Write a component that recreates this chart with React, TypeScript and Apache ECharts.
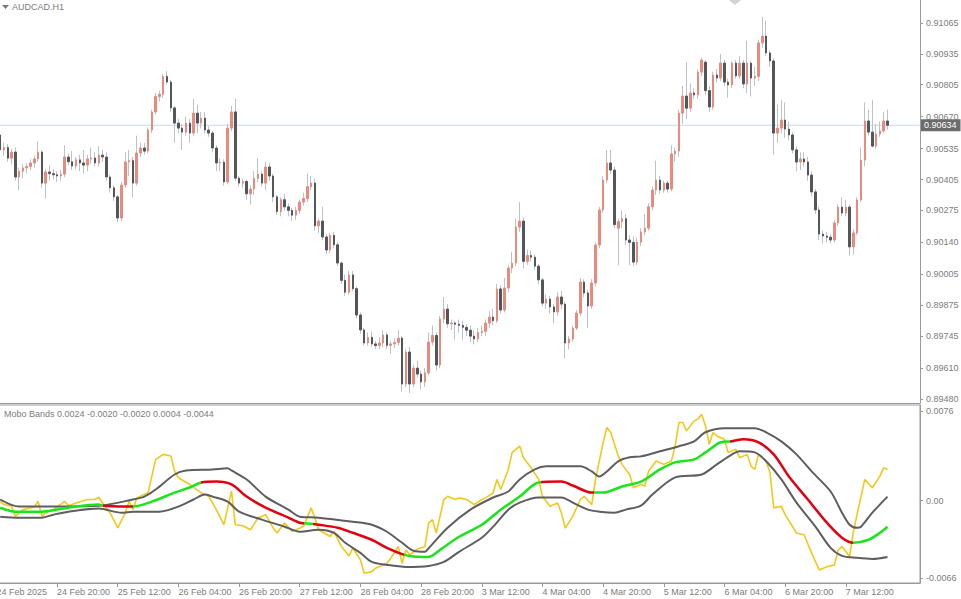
import React, { useEffect, useRef } from 'react';
import * as echarts from 'echarts';

const FONT = '"Liberation Sans", Arial, "DejaVu Sans", sans-serif';
const TEXT = '#7d7d7d';
const AXIS = '#9a9a9a';

// ---- time axis (bar index 0 = 24 Feb 2025 04:00, H1 bars, weekend skipped)
const xTickBars = [0, 16, 32, 48, 64, 80, 96, 112, 128, 144, 160, 176, 192, 208, 224];
const xTickLabels = ['24 Feb 2025', '24 Feb 20:00', '25 Feb 12:00', '26 Feb 04:00', '26 Feb 20:00', '27 Feb 12:00', '28 Feb 04:00', '28 Feb 20:00', '3 Mar 12:00', '4 Mar 04:00', '4 Mar 20:00', '5 Mar 12:00', '6 Mar 04:00', '6 Mar 20:00', '7 Mar 12:00'];
const firstBar = 1; // 24 Feb 05:00

// ---- price axis
const priceTicks = [0.91065, 0.90935, 0.90805, 0.9067, 0.90535, 0.90405, 0.90275, 0.9014, 0.90005, 0.89875, 0.89745, 0.8961, 0.8948];
const currentPrice = 0.90634;

// ---- indicator axis
const indTicks = [0.0076, 0, -0.0066];
const indTickLabels = ['0.0076', '0.00', '-0.0066'];
const indicatorHeaderValues = ['0.0024', '-0.0020', '-0.0020', '0.0004', '-0.0044'];

// ---- candles per day: [open, close, low, high] in points (1e-5)
const feb24 = [
  [90593, 90530, 90515, 90640], [90530, 90540, 90505, 90560], [90540, 90495, 90480, 90555], [90495, 90521, 90470, 90535],
  [90521, 90416, 90400, 90540], [90416, 90440, 90360, 90455], [90440, 90454, 90410, 90470], [90454, 90460, 90430, 90475],
  [90460, 90475, 90445, 90490], [90475, 90492, 90455, 90505], [90492, 90521, 90480, 90565], [90521, 90390, 90370, 90530],
  [90390, 90437, 90325, 90450], [90437, 90430, 90400, 90465], [90430, 90425, 90405, 90450], [90425, 90420, 90395, 90440],
  [90420, 90428, 90400, 90445], [90428, 90500, 90415, 90550], [90500, 90480, 90465, 90515],
];
const feb25 = [
  [90480, 90462, 90445, 90525], [90462, 90488, 90450, 90500], [90488, 90475, 90440, 90510], [90475, 90466, 90430, 90530],
  [90466, 90492, 90440, 90510], [90492, 90496, 90470, 90540], [90496, 90475, 90460, 90520], [90475, 90508, 90460, 90545],
  [90508, 90500, 90480, 90530], [90500, 90416, 90400, 90520], [90416, 90370, 90350, 90425], [90370, 90332, 90315, 90380],
  [90332, 90243, 90225, 90340], [90243, 90382, 90230, 90395], [90382, 90479, 90370, 90520], [90479, 90485, 90420, 90530],
  [90485, 90390, 90330, 90500], [90390, 90517, 90380, 90590], [90517, 90538, 90500, 90560], [90538, 90525, 90510, 90560],
  [90525, 90614, 90515, 90625], [90614, 90690, 90600, 90700], [90690, 90755, 90680, 90770], [90755, 90765, 90735, 90780],
];
const feb26 = [
  [90765, 90840, 90750, 90850], [90840, 90816, 90805, 90862], [90816, 90707, 90690, 90825], [90707, 90643, 90560, 90715],
  [90643, 90622, 90600, 90660], [90622, 90605, 90530, 90640], [90605, 90643, 90590, 90670], [90643, 90601, 90560, 90660],
  [90601, 90685, 90590, 90745], [90685, 90643, 90600, 90720], [90643, 90664, 90620, 90690], [90664, 90614, 90600, 90690],
  [90614, 90601, 90585, 90630], [90601, 90538, 90520, 90610], [90538, 90475, 90440, 90550], [90475, 90478, 90440, 90495],
  [90478, 90395, 90380, 90490], [90395, 90622, 90385, 90640], [90622, 90690, 90610, 90715], [90690, 90411, 90400, 90745],
  [90411, 90390, 90375, 90420], [90390, 90397, 90370, 90410], [90397, 90345, 90320, 90405], [90345, 90365, 90300, 90380],
];
const feb27 = [
  [90365, 90410, 90340, 90440], [90410, 90428, 90395, 90495], [90428, 90390, 90375, 90440], [90390, 90458, 90360, 90480],
  [90458, 90420, 90400, 90475], [90420, 90332, 90310, 90430], [90332, 90270, 90255, 90340], [90270, 90320, 90250, 90330],
  [90320, 90290, 90275, 90345], [90290, 90275, 90250, 90305], [90275, 90255, 90230, 90285], [90255, 90275, 90235, 90290],
  [90275, 90310, 90260, 90320], [90310, 90325, 90295, 90350], [90325, 90375, 90310, 90430], [90375, 90390, 90360, 90420],
  [90390, 90210, 90190, 90410], [90210, 90230, 90180, 90240], [90230, 90163, 90150, 90290], [90163, 90108, 90090, 90175],
  [90108, 90170, 90095, 90180], [90170, 90130, 90115, 90185], [90130, 90053, 90040, 90140], [90053, 89980, 89965, 90060],
];
const feb28 = [
  [89980, 89930, 89915, 90005], [89930, 90003, 89920, 90020], [90003, 89945, 89935, 90020], [89945, 89834, 89820, 89955],
  [89834, 89771, 89755, 89845], [89771, 89716, 89705, 89780], [89716, 89740, 89705, 89760], [89740, 89712, 89700, 89765],
  [89712, 89705, 89690, 89725], [89705, 89716, 89690, 89740], [89716, 89750, 89700, 89770], [89750, 89706, 89690, 89760],
  [89706, 89712, 89670, 89725], [89712, 89718, 89695, 89735], [89718, 89737, 89705, 89770], [89737, 89543, 89510, 89745],
  [89543, 89678, 89530, 89690], [89678, 89543, 89505, 89700], [89543, 89610, 89530, 89625], [89610, 89585, 89570, 89640],
  [89585, 89552, 89520, 89600], [89552, 89590, 89530, 89610], [89590, 89720, 89580, 89760], [89720, 89748, 89705, 89790],
];
const mar3 = [
  [89748, 89623, 89600, 89760], [89623, 89817, 89610, 89830], [89817, 89859, 89800, 89910], [89859, 89797, 89780, 89880],
  [89797, 89800, 89770, 89815], [89800, 89795, 89730, 89810], [89795, 89790, 89760, 89815], [89790, 89782, 89730, 89810],
  [89782, 89770, 89745, 89795], [89770, 89745, 89720, 89790], [89745, 89733, 89710, 89770], [89733, 89760, 89720, 89780],
  [89760, 89765, 89745, 89790], [89765, 89800, 89745, 89815], [89800, 89825, 89780, 89850], [89825, 89810, 89790, 89860],
  [89810, 89944, 89800, 89965], [89944, 89855, 89840, 89960], [89855, 89948, 89845, 89990], [89948, 90032, 89930, 90045],
  [90032, 90053, 90010, 90100], [90053, 90205, 90040, 90240], [90205, 90230, 90185, 90310], [90230, 90060, 90030, 90245],
];
const mar4 = [
  [90060, 90085, 90045, 90110], [90085, 90078, 90060, 90105], [90078, 90040, 90025, 90090], [90040, 89982, 89965, 90050],
  [89982, 89884, 89870, 89990], [89884, 89901, 89860, 89920], [89901, 89868, 89840, 89915], [89868, 89847, 89800, 89880],
  [89847, 89910, 89830, 89930], [89910, 89880, 89860, 89935], [89880, 89716, 89650, 89890], [89716, 89733, 89690, 89745],
  [89733, 89779, 89720, 89790], [89779, 89842, 89770, 89855], [89842, 89973, 89830, 89990], [89973, 89927, 89910, 89985],
  [89927, 89872, 89780, 89940], [89872, 89969, 89860, 89985], [89969, 90129, 89955, 90140], [90129, 90277, 90115, 90290],
  [90277, 90403, 90265, 90420], [90403, 90475, 90390, 90530], [90475, 90445, 90430, 90530], [90445, 90215, 90200, 90460],
];
const mar5 = [
  [90200, 90228, 90045, 90240], [90228, 90240, 90200, 90275], [90240, 90150, 90130, 90260], [90150, 90140, 90045, 90170],
  [90140, 90057, 90040, 90165], [90057, 90141, 90045, 90160], [90141, 90184, 90125, 90200], [90184, 90200, 90170, 90260],
  [90200, 90290, 90190, 90305], [90290, 90361, 90275, 90375], [90361, 90403, 90340, 90485], [90403, 90361, 90345, 90420],
  [90361, 90390, 90350, 90400], [90390, 90365, 90350, 90400], [90365, 90513, 90355, 90550], [90513, 90525, 90480, 90540],
  [90525, 90685, 90500, 90700], [90685, 90757, 90640, 90800], [90757, 90706, 90660, 90900], [90706, 90770, 90690, 90810],
  [90770, 90762, 90745, 90790], [90762, 90858, 90745, 90870], [90858, 90909, 90840, 90920], [90900, 90780, 90760, 90910],
];
const mar6 = [
  [90780, 90711, 90690, 90800], [90711, 90846, 90700, 90860], [90846, 90833, 90815, 90870], [90833, 90896, 90820, 90935],
  [90896, 90816, 90800, 90910], [90816, 90804, 90750, 90830], [90804, 90896, 90790, 90905], [90896, 90842, 90830, 90910],
  [90842, 90896, 90830, 90925], [90896, 90808, 90790, 90910], [90808, 90896, 90770, 90990], [90896, 90833, 90755, 90905],
  [90833, 90840, 90800, 90880], [90840, 90981, 90820, 90995], [90981, 91010, 90960, 91090], [91010, 90939, 90925, 91075],
  [90939, 90905, 90880, 90950], [90905, 90601, 90510, 90915], [90601, 90622, 90560, 90720], [90622, 90656, 90600, 90740],
  [90656, 90618, 90580, 90730], [90618, 90593, 90570, 90650], [90593, 90530, 90515, 90605], [90530, 90479, 90440, 90545],
];
const mar7 = [
  [90479, 90492, 90445, 90520], [90492, 90479, 90460, 90520], [90479, 90424, 90400, 90500], [90424, 90353, 90335, 90440],
  [90353, 90277, 90260, 90365], [90277, 90175, 90150, 90290], [90175, 90167, 90135, 90190], [90167, 90162, 90140, 90185],
  [90162, 90150, 90135, 90175], [90150, 90222, 90140, 90235], [90222, 90289, 90210, 90300], [90289, 90264, 90250, 90330],
  [90264, 90289, 90250, 90320], [90289, 90121, 90085, 90300], [90121, 90180, 90090, 90195], [90180, 90319, 90170, 90330],
  [90319, 90487, 90310, 90540], [90487, 90652, 90460, 90730], [90652, 90605, 90590, 90700], [90605, 90546, 90540, 90740],
  [90546, 90597, 90535, 90640], [90597, 90610, 90585, 90650], [90610, 90652, 90600, 90690], [90652, 90634, 90615, 90700],
];
const days = [feb24, feb25, feb26, feb27, feb28, mar3, mar4, mar5, mar6, mar7];

// ---- Mobo Bands indicator: [bar index, value]
const yellowLine = [
  [1, -0.00006], [2, -0.00034], [4, -0.00049], [5, -0.00134], [7, -0.00077], [10, -0.00054], [11, -0.00006], [12, -0.00134],
  [13, -0.00105], [15, -0.00077], [18, -0.00006], [19, -0.00043], [21, -0.0002], [24, 0.00009], [26, 0.00009], [27, 0.00028],
  [28, -0.0002], [30, -0.00105], [32, -0.00233], [34, -0.00105], [35, -0.00006], [36, -0.00077], [37, 0.00023], [40, 0.00066],
  [42, 0.00351], [44, 0.00393], [46, 0.00379], [47, 0.00251], [48, 0.00194], [51, 0.00137], [54, 0.00066], [56, 0.00037],
  [58, -0.00077], [60, -0.00205], [62, 0.0008], [63, -0.00205], [65, -0.00214], [67, -0.00248], [69, -0.00148], [71, -0.0012],
  [73, -0.00233], [74, -0.00276], [76, -0.00191], [78, -0.00262], [81, -0.0022], [83, -0.00062], [84, -0.00148], [85, -0.00248],
  [88, -0.00305], [89, -0.00262], [91, -0.00391], [93, -0.00471], [94, -0.00404], [96, -0.00504], [97, -0.00618], [99, -0.00604],
  [100, -0.00575], [103, -0.00533], [104, -0.0049], [106, -0.00391], [107, -0.00533], [108, -0.00419], [109, -0.00462], [111, -0.00413],
  [113, -0.00391], [114, -0.00191], [115, -0.00162], [116, -0.00276], [118, 0.00009], [119, 0.00037], [121, 0.00009], [122, 0.00023],
  [124, 0.00009], [126, -0.00034], [128, 0.00009], [129, 0.00023], [131, 0.00066], [132, 0.0018], [133, 0.00094], [135, 0.00265],
  [136, 0.00408], [138, 0.00464], [139, 0.00365], [141, 0.0028], [143, 0.0018], [144, 0.00037], [146, -0.00049], [148, -0.0002],
  [149, -0.00105], [150, -0.00233], [152, -0.00134], [154, 0.00009], [155, 0.00037], [157, -0.00034], [158, 0.0018], [160, 0.00493],
  [161, 0.00622], [162, 0.00579], [164, 0.00379], [165, 0.00308], [167, 0.00222], [168, 0.00109], [170, 0.00137], [171, 0.00122],
  [172, 0.00251], [174, 0.00336], [176, 0.00308], [178, 0.00336], [179, 0.00464], [180, 0.00664], [181, 0.00664], [182, 0.00593],
  [183, 0.00635], [184, 0.00678], [185, 0.00693], [186, 0.00735], [187, 0.00635], [188, 0.00479], [189, 0.00579], [190, 0.0055],
  [192, 0.00522], [193, 0.00408], [195, 0.00436], [196, 0.00365], [198, 0.00393], [199, 0.00293], [200, 0.00265], [201, 0.00393],
  [203, 0.00336], [204, 0.00237], [205, -0.00062], [207, -0.00049], [208, -0.0012], [211, -0.00276], [213, -0.00291], [215, -0.00447],
  [217, -0.0059], [219, -0.00562], [221, -0.00547], [222, -0.00419], [223, -0.00391], [225, -0.00476], [226, -0.00262], [229, 0.0018],
  [231, 0.00109], [233, 0.00208], [234, 0.0028], [235, 0.00265],
];
const upperBand = [
  [1, 0.00009], [6, -0.00051], [27, -0.00043], [36, 0.00009], [39, 0.00034], [42, 0.00094], [47, 0.00222], [50, 0.00256],
  [57, 0.00265], [61, 0.00274], [62, 0.00256], [66, 0.0018], [71, 0.00034], [77, -0.00077], [80, -0.00137], [85, -0.00145],
  [94, -0.0018], [99, -0.00205], [103, -0.00265], [107, -0.00359], [110, -0.00427], [113, -0.00436], [114, -0.00405], [119, -0.00231],
  [125, -0.00077], [131, 0.00026], [135, 0.00077], [138, 0.0018], [142, 0.00265], [145, 0.00291], [154, 0.00291], [157, 0.00248],
  [159, 0.00205], [161, 0.00248], [164, 0.00334], [167, 0.00368], [170, 0.00376], [175, 0.00419], [180, 0.00462], [184, 0.00504],
  [187, 0.00581], [192, 0.00616], [200, 0.00616], [203, 0.00581], [207, 0.00504], [211, 0.00393], [215, 0.00248], [220, 0.00077],
  [223, -0.00103], [225, -0.00205], [227, -0.00231], [228, -0.00222], [231, -0.00103], [235, 0.00034],
];
const lowerBand = [
  [1, -0.00137], [6, -0.00145], [12, -0.00145], [15, -0.0012], [19, -0.00094], [27, -0.00068], [33, -0.00103], [36, -0.00094],
  [43, -0.00094], [48, -0.00051], [52, 0.00009], [55, 0.00051], [57, 0.00034], [61, -0.00009], [64, -0.00094], [70, -0.00162],
  [76, -0.00222], [80, -0.00265], [85, -0.00248], [89, -0.00274], [92, -0.00359], [96, -0.00445], [99, -0.00522], [103, -0.00547],
  [108, -0.00564], [114, -0.00556], [118, -0.00522], [122, -0.00436], [128, -0.00316], [131, -0.00222], [135, -0.00077], [138, -0.00017],
  [143, 0.00026], [149, 0.00026], [152, -0.00017], [156, -0.00077], [159, -0.00094], [163, -0.00103], [166, -0.00077], [170, -0.00043],
  [173, 0.00051], [179, 0.00197], [186, 0.00222], [190, 0.00308], [194, 0.00393], [196, 0.00419], [200, 0.0041], [203, 0.00334],
  [207, 0.0018], [211, -0.00017], [216, -0.00222], [220, -0.00402], [223, -0.0047], [227, -0.00487], [231, -0.00496], [235, -0.00479],
];
const midLine = [
  [1, -0.0006], [5, -0.00094], [12, -0.00094], [19, -0.0006], [27, -0.00034], [28, -0.00043], [36, -0.00051], [41, -0.00009],
  [47, 0.00068], [51, 0.00111], [54, 0.00154], [58, 0.00162], [62, 0.00137], [66, 0.00034], [71, -0.0006], [77, -0.00145],
  [80, -0.00188], [83, -0.00197], [85, -0.00205], [90, -0.00231], [94, -0.00274], [99, -0.00333], [103, -0.00402], [107, -0.00455],
  [110, -0.00475], [114, -0.00479], [117, -0.00419], [122, -0.00308], [128, -0.00205], [133, -0.00077], [138, 0.00034], [143, 0.00154],
  [149, 0.00162], [152, 0.00128], [157, 0.00068], [160, 0.00068], [165, 0.0012], [170, 0.00162], [175, 0.00265], [179, 0.00325],
  [184, 0.00351], [187, 0.0041], [191, 0.00496], [194, 0.00505], [197, 0.00522], [201, 0.00496], [205, 0.00393], [209, 0.00205],
  [214, 0.00009], [219, -0.00188], [223, -0.00316], [226, -0.00359], [230, -0.00333], [233, -0.00274], [235, -0.00222],
];
// bar ranges where the middle line is falling (drawn red)
const redRanges = [[28, 36], [54, 81], [83.5, 107.5], [143.5, 157.5], [193.5, 226]];

// ---- layout constants
const X_MIN = -0.1;
const X_MAX = 243.57;

const candles = days.flat();
const wickData = candles.map(([o, c, l, h], k) => [firstBar + k, o / 1e5, c / 1e5, l / 1e5, h / 1e5]);
const bodyData = candles.map(([o, c], k) => [firstBar + k, o / 1e5, c / 1e5, Math.min(o, c) / 1e5, Math.max(o, c) / 1e5]);
const priceLineData = [[X_MIN, currentPrice], [X_MAX, currentPrice]];

const labelStyle = { color: TEXT, fontSize: 9, fontFamily: FONT };

function buildOption(): any {
  return {
    animation: false,
    backgroundColor: '#ffffff',
    textStyle: { fontFamily: FONT },
    title: [
      { text: 'AUDCAD.H1', left: 12, top: 2, padding: 0, textStyle: { ...labelStyle, fontWeight: 'normal' } },
      { text: `Mobo Bands ${indicatorHeaderValues.join(' ')}`, left: 4, top: 409, padding: 0, textStyle: { ...labelStyle, fontWeight: 'normal' } },
    ],
    grid: [
      { left: -4, top: 0, width: 924, height: 403, outerBoundsMode: 'none', containLabel: false },
      {
        left: -4, top: 405, width: 924, height: 178, outerBoundsMode: 'none', containLabel: false,
        show: true, borderColor: AXIS, borderWidth: 1, backgroundColor: 'transparent',
      },
    ],
    xAxis: [
      {
        type: 'value', gridIndex: 0, min: X_MIN, max: X_MAX,
        axisLine: { show: true, onZero: false, lineStyle: { color: AXIS } },
        axisTick: { show: false }, axisLabel: { show: false }, splitLine: { show: false },
      },
      {
        type: 'value', gridIndex: 1, min: X_MIN, max: X_MAX, position: 'bottom',
        axisLine: { show: true, onZero: false, lineStyle: { color: AXIS } },
        axisTick: { show: true, customValues: xTickBars, length: 4, lineStyle: { color: AXIS } },
        axisLabel: {
          show: true, customValues: xTickBars, align: 'left', margin: 4, ...labelStyle,
          formatter: (v: number) => {
            const i = xTickBars.indexOf(Math.round(v));
            return i >= 0 ? xTickLabels[i] : '';
          },
        },
        splitLine: { show: false },
      },
    ],
    yAxis: [
      {
        type: 'value', gridIndex: 0, position: 'right', min: 0.89463, max: 0.91162, scale: true,
        axisLine: { show: true, onZero: false, lineStyle: { color: AXIS } },
        axisTick: { show: true, customValues: priceTicks, length: 3, lineStyle: { color: AXIS } },
        axisLabel: { show: true, customValues: priceTicks, margin: 6, ...labelStyle, formatter: (v: number) => v.toFixed(5) },
        splitLine: { show: false },
      },
      {
        type: 'value', gridIndex: 1, position: 'right', min: -0.00701, max: 0.00813,
        axisLine: { show: true, onZero: false, lineStyle: { color: AXIS } },
        axisTick: { show: true, customValues: indTicks, length: 3, lineStyle: { color: AXIS } },
        axisLabel: {
          show: true, customValues: indTicks, margin: 6, ...labelStyle,
          formatter: (v: number) => {
            const i = indTicks.findIndex((t) => Math.abs(t - v) < 1e-9);
            return i >= 0 ? indTickLabels[i] : '';
          },
        },
        splitLine: { show: false },
      },
    ],
    visualMap: [
      {
        type: 'piecewise', show: false, seriesIndex: 6, dimension: 0,
        pieces: redRanges.map(([a, b]) => ({ gte: a, lte: b, color: '#e4000f' })),
        outOfRange: { color: '#19e619' },
      },
    ],
    series: [
      {
        name: 'current price', type: 'line', xAxisIndex: 0, yAxisIndex: 0, data: priceLineData,
        showSymbol: false, silent: true, z: 1,
        lineStyle: { color: '#c4d8e6', width: 1 },
        endLabel: {
          show: true, formatter: currentPrice.toFixed(5), distance: 1,
          color: '#ffffff', backgroundColor: '#6c6c6c', padding: [2, 4, 1, 3], fontSize: 9, fontFamily: FONT,
        },
      },
      {
        name: 'wicks', type: 'candlestick', xAxisIndex: 0, yAxisIndex: 0, barWidth: 1,
        encode: { x: 0, y: [1, 2, 3, 4] }, data: wickData,
        itemStyle: { color: '#bcc2c9', color0: '#bcc2c9', borderColor: '#bcc2c9', borderColor0: '#bcc2c9', borderWidth: 1 },
      },
      {
        name: 'bodies', type: 'candlestick', xAxisIndex: 0, yAxisIndex: 0, barWidth: 2,
        encode: { x: 0, y: [1, 2, 3, 4] }, data: bodyData,
        itemStyle: { color: '#e98a7c', color0: '#53575c', borderColor: '#e98a7c', borderColor0: '#53575c', borderColorDoji: '#53575c', borderWidth: 1 },
      },
      {
        name: 'yellow', type: 'line', xAxisIndex: 1, yAxisIndex: 1, data: yellowLine, showSymbol: false,
        lineStyle: { color: '#f3c81b', width: 1.6 }, z: 2,
      },
      {
        name: 'upper', type: 'line', xAxisIndex: 1, yAxisIndex: 1, data: upperBand, showSymbol: false, smooth: 0.3,
        lineStyle: { color: '#5e5e5e', width: 2 }, z: 3,
      },
      {
        name: 'lower', type: 'line', xAxisIndex: 1, yAxisIndex: 1, data: lowerBand, showSymbol: false, smooth: 0.3,
        lineStyle: { color: '#5e5e5e', width: 2 }, z: 3,
      },
      {
        name: 'mid', type: 'line', xAxisIndex: 1, yAxisIndex: 1, data: midLine, showSymbol: false, smooth: 0.3,
        lineStyle: { width: 2.5 }, z: 4,
      },
    ],
    graphic: [
      { type: 'polygon', shape: { points: [[2, 5], [9, 5], [5.5, 9]] }, style: { fill: '#7a7a7a' } },
      { type: 'polygon', shape: { points: [[729, 0], [741, 0], [735, 5]] }, style: { fill: '#d2d2d2' } },
    ],
  };
}

export default function App() {
  const ref = useRef<HTMLDivElement>(null);
  useEffect(() => {
    if (!ref.current) return;
    const chart = echarts.init(ref.current, null, { renderer: 'svg' });
    chart.setOption(buildOption());
    return () => chart.dispose();
  }, []);
  return (
    <div
      ref={ref}
      style={{ position: 'fixed', left: 0, top: 0, width: 961, height: 599, background: '#ffffff' }}
    />
  );
}
